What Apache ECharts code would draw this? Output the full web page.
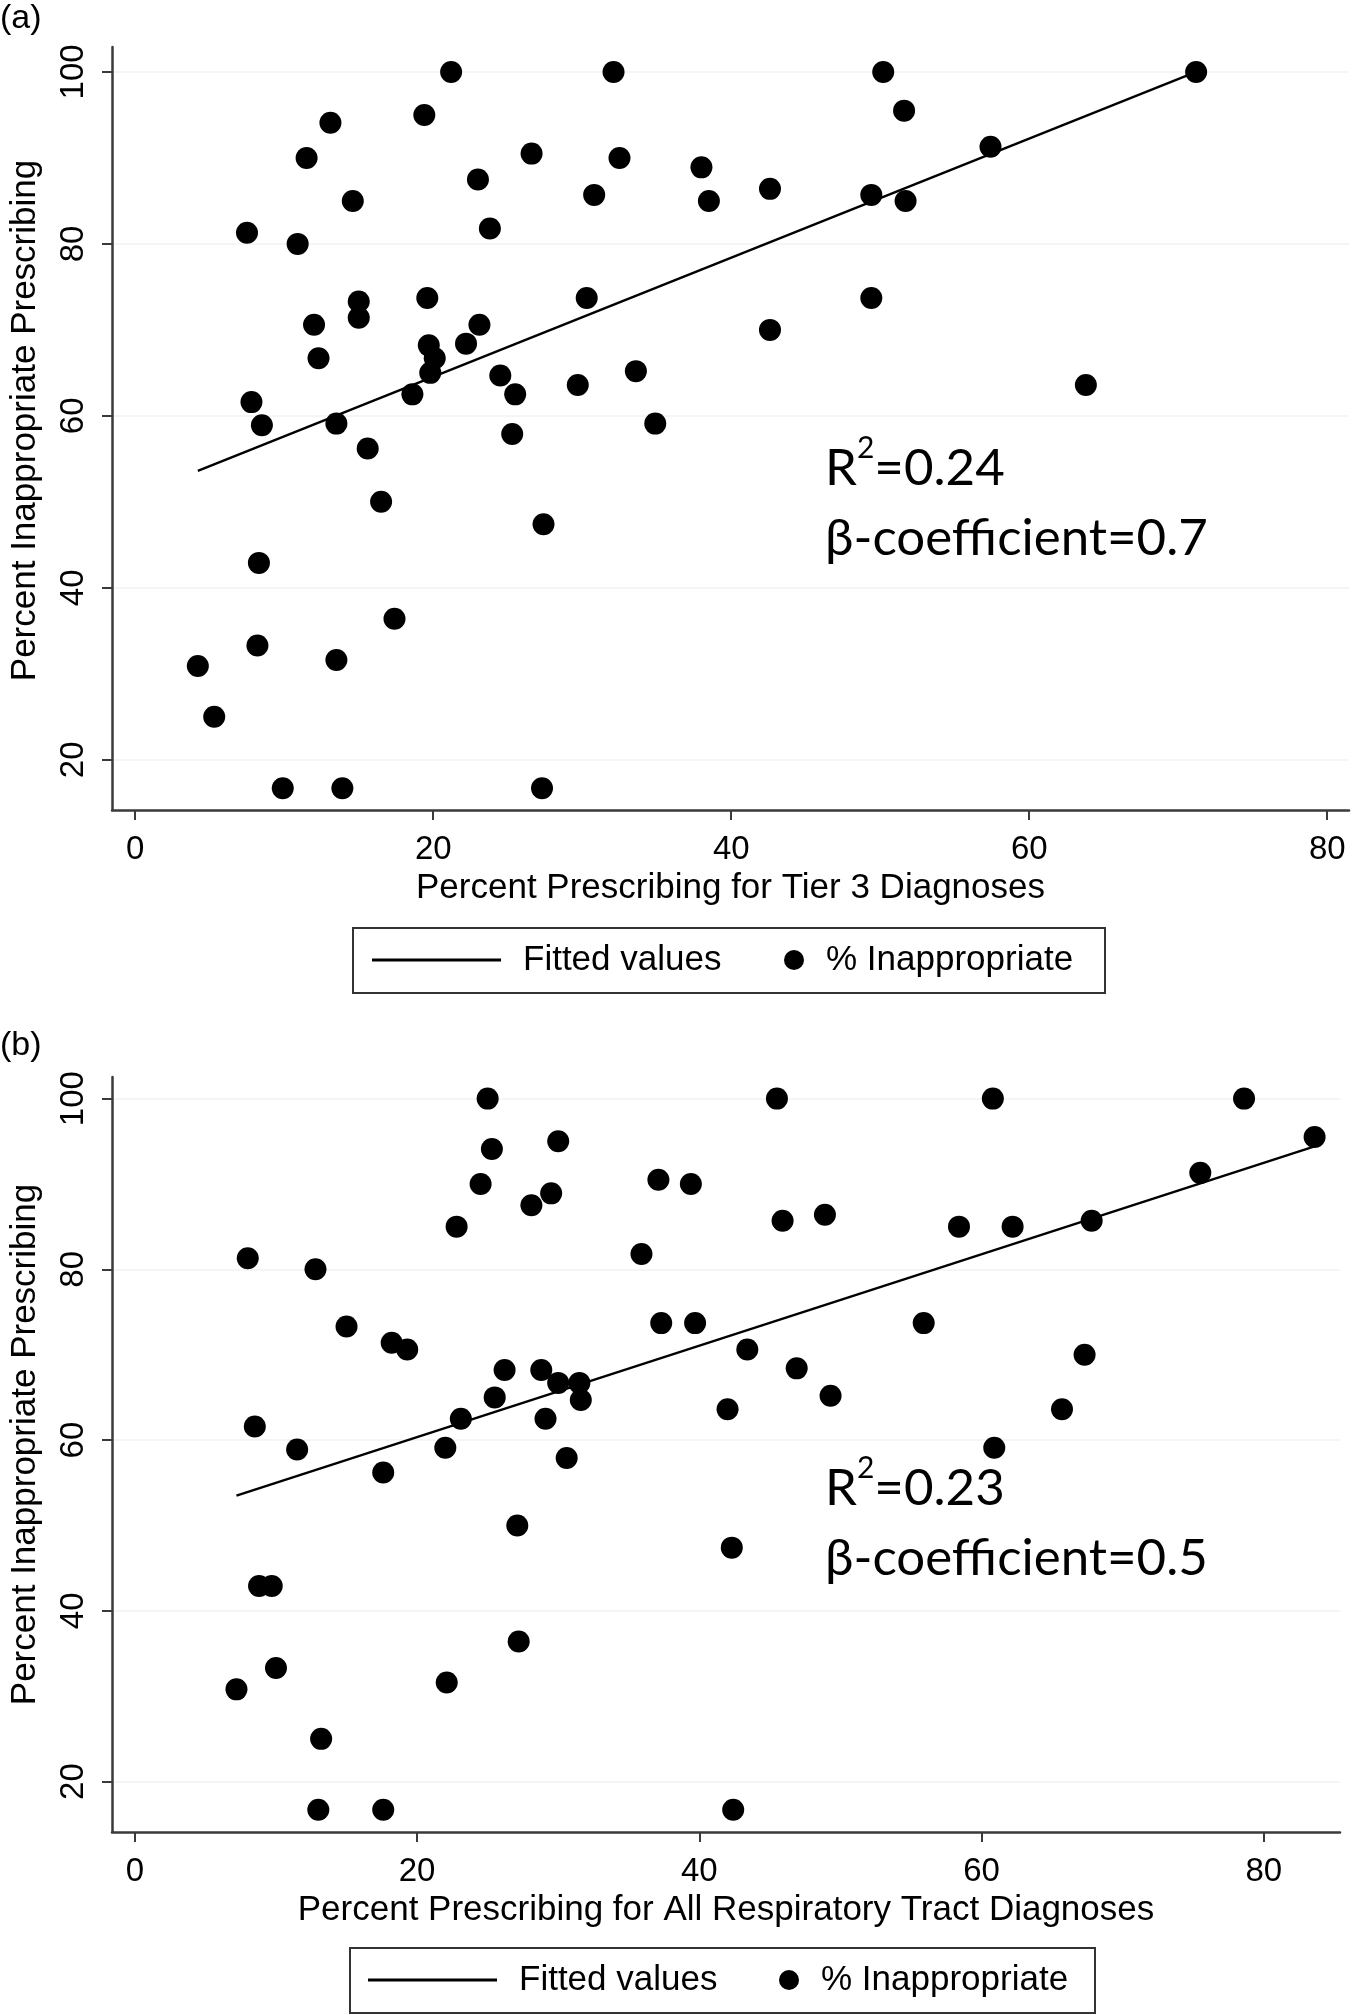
<!DOCTYPE html>
<html><head><meta charset="utf-8">
<script src="https://cdn.jsdelivr.net/npm/echarts@6/dist/echarts.min.js"></script>
<style>html,body{margin:0;padding:0;background:#fff}#c{width:1352px;height:2015px}</style>
</head><body><div id="c"></div>
<script>
// Panel (a): Percent prescribing for Tier 3 diagnoses vs % inappropriate
const tier3X = [4.2,5.3,7.5,7.8,8.5,8.3,8.2,9.9,10.9,11.5,12.0,12.3,13.1,13.5,13.5,13.9,14.6,15.0,15.0,15.6,16.5,17.4,18.6,19.4,19.6,19.7,20.1,19.8,21.2,22.2,23.0,23.1,23.8,24.5,25.3,25.5,26.6,27.4,27.3,29.7,30.3,30.8,32.1,32.5,33.6,34.9,38.0,38.5,42.6,42.6,49.4,49.4,50.2,51.6,51.7,57.4,63.8,71.2];
const tier3Y = [30.9,25.0,81.3,61.6,58.9,42.9,33.3,16.7,80.0,90.0,70.6,66.7,94.1,59.1,31.6,16.7,85.0,73.3,71.4,56.2,50.0,36.4,62.5,95.0,73.7,68.2,66.7,65.0,100,68.4,87.5,70.6,81.8,64.7,57.9,62.5,90.5,47.4,16.7,63.6,73.7,85.7,100,90.0,65.2,59.1,88.9,85.0,86.4,70.0,85.7,73.7,100,95.5,85.0,91.3,63.6,100];
const fitAX = [4.2, 71.2];
const fitAY = [53.6, 100];

// Panel (b): Percent prescribing for all respiratory tract diagnoses vs % inappropriate
const rtiX = [7.2,8.0,8.5,8.8,9.7,10.0,11.5,12.8,13.2,13.0,15.0,17.6,17.6,18.2,19.3,22.0,22.1,22.8,23.1,24.5,25.0,25.3,25.5,26.2,27.1,27.2,28.1,28.8,29.1,29.5,30.0,30.0,30.6,31.5,31.6,35.9,37.1,37.3,39.4,39.7,42.0,42.3,42.4,43.4,45.5,45.9,46.9,48.9,49.3,55.9,58.4,60.8,60.9,62.2,65.7,67.3,67.8,75.5,78.6,83.6];
const rtiY = [30.8,81.3,61.6,42.9,42.9,33.3,58.9,80.0,25.0,16.7,73.3,56.2,16.7,71.4,70.6,59.1,31.6,85.0,62.5,90.0,100,94.1,65.0,68.2,50.0,36.4,87.5,68.2,62.5,88.9,66.7,95.0,57.9,66.7,64.7,81.8,90.5,73.7,90.0,73.7,63.6,47.4,16.7,70.6,100,85.7,68.4,86.4,65.2,73.7,85.0,100,59.1,85.0,63.6,70.0,85.7,91.3,100,95.5];
const fitBX = [7.2, 83.6];
const fitBY = [53.5, 94.4];

const xTickLabels = [0, 20, 40, 60, 80];
const yTickLabels = [20, 40, 60, 80, 100];
const statsA = ['0.24', '0.7'];
const statsB = ['0.23', '0.5'];

const zip = (xs, ys) => xs.map((x, i) => [x, ys[i]]);

const SANS = 'Liberation Sans';
const axisColor = '#3a3a3a';

function xAxisCfg(grid, min, max, name) {
  return {
    gridIndex: grid, type: 'value', min: min, max: max,
    axisLine: { show: true, onZero: false, lineStyle: { color: axisColor, width: 2.5 } },
    axisTick: { show: true, length: 10, customValues: xTickLabels, lineStyle: { color: axisColor, width: 2 } },
    axisLabel: { customValues: xTickLabels, margin: 23, fontFamily: SANS, fontSize: 33, color: '#000' },
    splitLine: { show: false },
    name: name, nameLocation: 'middle', nameGap: 61,
    nameTextStyle: { fontFamily: SANS, fontSize: 35, color: '#000' }
  };
}
function yAxisCfg(grid, min, max, namePad) {
  return {
    gridIndex: grid, type: 'value', min: min, max: max,
    axisLine: { show: true, onZero: false, lineStyle: { color: axisColor, width: 2.5 } },
    axisTick: { show: true, length: 10, customValues: yTickLabels, lineStyle: { color: axisColor, width: 2 } },
    axisLabel: { customValues: yTickLabels, rotate: 90, margin: 22, fontFamily: SANS, fontSize: 33, color: '#000' },
    splitLine: { show: true, lineStyle: { color: '#edf3f4', width: 1.5 } },
    name: 'Percent Inappropriate Prescribing', nameLocation: 'middle', nameGap: 69, nameRotate: 90,
    nameTextStyle: { fontFamily: SANS, fontSize: 35, color: '#000', padding: namePad }
  };
}
function statTitle(stats, left, top) {
  return {
    text: '{r|R}{s|2}{r|=' + stats[0] + '}\n{r|β-coefficient=' + stats[1] + '}',
    left: left, top: top, padding: 0,
    textStyle: {
      fontWeight: 'normal',
      rich: {
        r: { fontFamily: 'Lato', fontSize: 51, fontWeight: 'normal', lineHeight: 70.5, color: '#000' },
        s: { fontFamily: 'Lato', fontSize: 30, fontWeight: 'normal', lineHeight: 50, verticalAlign: 'top', color: '#000' }
      }
    }
  };
}
function legendCfg(name, left, top, w, h, icon) {
  return {
    data: [{ name: name, icon: icon }], left: left, top: top, padding: 0, orient: 'horizontal',
    itemWidth: w, itemHeight: h, selectedMode: false,
    itemStyle: { color: '#000', opacity: 1 },
    textStyle: { fontFamily: SANS, fontSize: 35, color: '#000', lineHeight: 40, padding: [0, 0, 0, 17] }
  };
}

const chart = echarts.init(document.getElementById('c'), null, { renderer: 'canvas' });
chart.setOption({
  backgroundColor: '#fff',
  animation: false,
  title: [
    { text: '(a)', left: 0, top: 2, padding: 0, textStyle: { fontFamily: SANS, fontSize: 34, fontWeight: 'normal', color: '#000' } },
    { text: '(b)', left: 0, top: 1029, padding: 0, textStyle: { fontFamily: SANS, fontSize: 34, fontWeight: 'normal', color: '#000' } },
    statTitle(statsA, 825, 433),
    statTitle(statsB, 825, 1453)
  ],
  grid: [
    { left: 107, right: 3, top: 47, height: 763 },
    { left: 107, right: 12, top: 1077, height: 755 }
  ],
  xAxis: [
    xAxisCfg(0, -1.56, 81.46, 'Percent Prescribing for Tier 3 Diagnoses'),
    xAxisCfg(1, -1.62, 85.4, 'Percent Prescribing for All Respiratory Tract Diagnoses')
  ],
  yAxis: [
    yAxisCfg(0, 14.16, 102.9, [0, 0, 0, 16]),
    yAxisCfg(1, 14.09, 102.53, [0, 0, 0, 20])
  ],
  legend: [
    legendCfg('Fitted values', 372, 940, 129, 3, 'rect'),
    legendCfg('% Inappropriate', 784, 940, 20, 20, 'circle'),
    legendCfg('Fitted values', 368, 1960, 129, 3, 'rect'),
    legendCfg('% Inappropriate', 779, 1960, 20, 20, 'circle')
  ],
  graphic: [
    { type: 'rect', shape: { x: 353, y: 928, width: 752, height: 65 }, style: { fill: 'none', stroke: '#333', lineWidth: 2 } },
    { type: 'rect', shape: { x: 350, y: 1948, width: 745, height: 65 }, style: { fill: 'none', stroke: '#333', lineWidth: 2 } }
  ],
  series: [
    { name: 'Fitted values', type: 'line', xAxisIndex: 0, yAxisIndex: 0, data: zip(fitAX, fitAY), symbol: 'none', lineStyle: { color: '#000', width: 2.4 }, itemStyle: { color: '#000' }, z: 2 },
    { name: '% Inappropriate', type: 'scatter', xAxisIndex: 0, yAxisIndex: 0, data: zip(tier3X, tier3Y), symbolSize: 22, itemStyle: { color: '#000', opacity: 1 }, z: 3 },
    { name: 'Fitted values', type: 'line', xAxisIndex: 1, yAxisIndex: 1, data: zip(fitBX, fitBY), symbol: 'none', lineStyle: { color: '#000', width: 2.4 }, itemStyle: { color: '#000' }, z: 2 },
    { name: '% Inappropriate', type: 'scatter', xAxisIndex: 1, yAxisIndex: 1, data: zip(rtiX, rtiY), symbolSize: 22, itemStyle: { color: '#000', opacity: 1 }, z: 3 }
  ]
});
</script>
</body></html>
